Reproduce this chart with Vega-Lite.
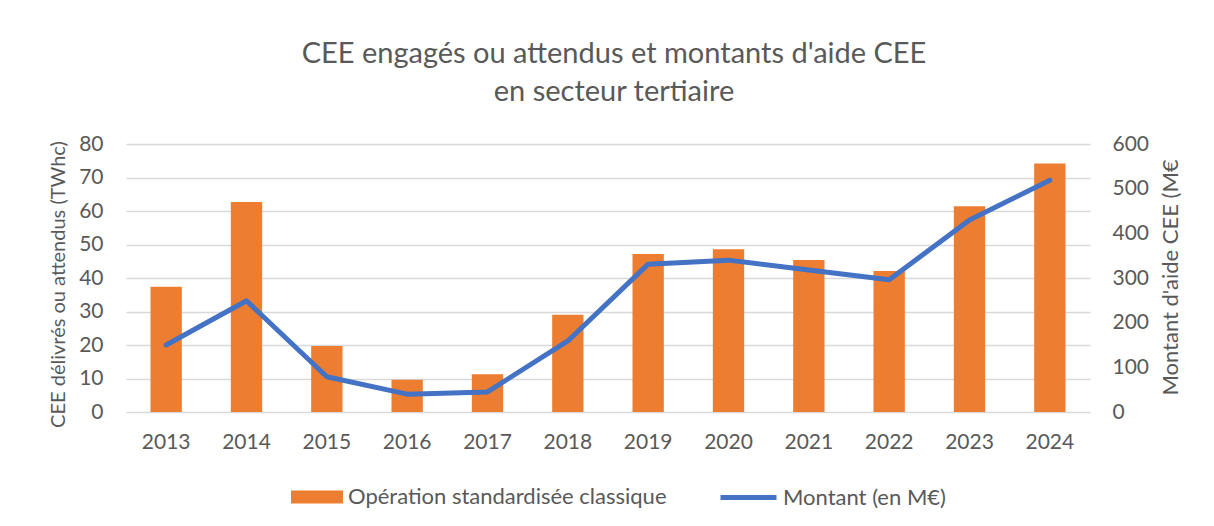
{
  "$schema": "https://vega.github.io/schema/vega-lite/v6.json",
  "autosize": "none",
  "width": 964,
  "height": 268,
  "padding": {"left": 126, "top": 144, "right": 124, "bottom": 114},
  "background": "white",
  "config": {
    "font": "Lato",
    "view": {"stroke": null},
    "axis": {"labelFont": "Lato", "titleFont": "Lato", "labelColor": "#595959", "titleColor": "#595959", "labelFontSize": 21, "titleFontSize": 20, "titleFontWeight": "normal"},
    "legend": {"labelFont": "Lato", "labelColor": "#595959", "labelFontSize": 22, "labelLimit": 600}
  },
  "title": {
    "text": ["CEE engagés ou attendus et montants d'aide CEE", "en secteur tertiaire"],
    "fontSize": 29,
    "fontWeight": "normal",
    "color": "#595959",
    "font": "Lato",
    "anchor": "middle",
    "dx": 6,
    "offset": 26,
    "lineHeight": 38
  },
  "data": {
    "values": [
      {"annee": "2013", "cee": 37.4, "montant": 150},
      {"annee": "2014", "cee": 62.7, "montant": 249},
      {"annee": "2015", "cee": 19.7, "montant": 79},
      {"annee": "2016", "cee": 9.6, "montant": 40},
      {"annee": "2017", "cee": 11.3, "montant": 45},
      {"annee": "2018", "cee": 29.0, "montant": 159},
      {"annee": "2019", "cee": 47.2, "montant": 331},
      {"annee": "2020", "cee": 48.6, "montant": 340},
      {"annee": "2021", "cee": 45.4, "montant": 318},
      {"annee": "2022", "cee": 42.1, "montant": 296},
      {"annee": "2023", "cee": 61.4, "montant": 430},
      {"annee": "2024", "cee": 74.2, "montant": 519}
    ]
  },
  "encoding": {
    "x": {
      "field": "annee",
      "type": "ordinal",
      "scale": {"paddingInner": 0.61, "paddingOuter": 0.305},
      "axis": {"title": null, "labelAngle": 0, "domain": false, "ticks": false, "tickSize": 0, "labelPadding": 19, "grid": false}
    }
  },
  "layer": [
    {
      "mark": {"type": "bar", "color": "#ED7D31"},
      "encoding": {
        "y": {
          "field": "cee",
          "type": "quantitative",
          "scale": {"domain": [0, 80], "nice": false},
          "axis": {
            "title": "CEE délivrés ou attendus (TWhc)",
            "values": [0, 10, 20, 30, 40, 50, 60, 70, 80],
            "domain": false, "ticks": false, "tickSize": 0, "labelPadding": 23,
            "grid": true, "gridColor": "#d9d9d9", "gridWidth": 1.3,
            "titleX": -68, "titleY": 140, "titleAngle": -90, "titleBaseline": "middle", "titleAlign": "center"
          }
        },
        "fill": {
          "datum": "Opération standardisée classique",
          "scale": {"range": ["#ED7D31"]},
          "legend": {
            "title": null, "orient": "none", "legendX": 165, "legendY": 327, "padding": 0,
            "symbolType": "M-1,-0.25H1V0.25H-1Z", "symbolSize": 2704, "symbolStrokeWidth": 0,
            "labelOffset": 5
          }
        }
      }
    },
    {
      "mark": {"type": "line", "strokeWidth": 5, "strokeCap": "round", "strokeJoin": "round"},
      "encoding": {
        "y": {
          "field": "montant",
          "type": "quantitative",
          "scale": {"domain": [0, 600], "nice": false},
          "axis": {
            "orient": "right",
            "title": "Montant d'aide CEE (M€",
            "values": [0, 100, 200, 300, 400, 500, 600],
            "domain": false, "ticks": false, "tickSize": 0, "labelPadding": 22,
            "grid": false, "titleFontSize": 22,
            "titleX": 80, "titleY": 133, "titleAngle": -90, "titleBaseline": "middle", "titleAlign": "center"
          }
        },
        "stroke": {
          "datum": "Montant (en M€)",
          "scale": {"range": ["#4472C4"]},
          "legend": {
            "title": null, "orient": "none", "legendX": 592, "legendY": 323, "padding": 0,
            "symbolType": "stroke", "symbolSize": 3136, "symbolStrokeWidth": 5,
            "labelOffset": 4
          }
        }
      }
    }
  ],
  "resolve": {"scale": {"y": "independent"}}
}
